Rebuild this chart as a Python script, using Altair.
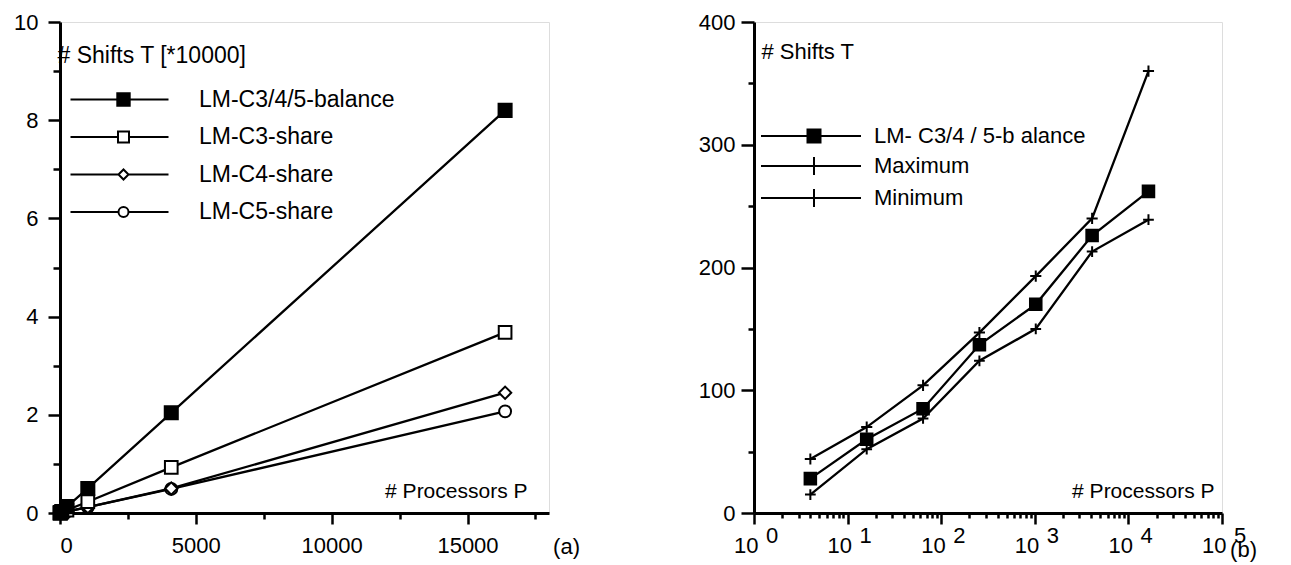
import altair as alt
import pandas as pd

# ---------------- data ----------------
processors = [4, 16, 64, 256, 1024, 4096, 16384]

# panel (a): shifts T in units of 10000
left_series = ["LM-C3/4/5-balance", "LM-C3-share", "LM-C4-share", "LM-C5-share"]
balance_a = [0.002, 0.008, 0.03, 0.13, 0.50, 2.04, 8.20]
c3_share_a = [0.001, 0.004, 0.015, 0.06, 0.23, 0.93, 3.68]
c4_share_a = [0.0005, 0.002, 0.008, 0.03, 0.12, 0.50, 2.45]
c5_share_a = [0.0005, 0.002, 0.008, 0.03, 0.12, 0.49, 2.07]

# panel (b): shifts T
right_series = ["LM- C3/4 / 5-b alance", "Maximum", "Minimum"]
balance_b = [28, 60, 85, 137, 170, 226, 262]
maximum_b = [44, 70, 104, 147, 193, 240, 360]
minimum_b = [15, 52, 77, 124, 150, 213, 239]

exponents = [0, 1, 2, 3, 4, 5]
x_ticks_a = [0, 2500, 5000, 7500, 10000, 12500, 15000, 17500]
y_ticks_a = [0, 1, 2, 3, 4, 5, 6, 7, 8, 9, 10]
y_ticks_b = [0, 50, 100, 150, 200, 250, 300, 350, 400]

FONT = "Liberation Sans"
FS = 22

rows_a = []
# drawn in reverse so that the balance series and the diamonds sit on top
for name, vals in reversed(list(zip(left_series, [balance_a, c3_share_a, c4_share_a, c5_share_a]))):
    for p, v in zip(processors, vals):
        rows_a.append({"series": name, "P": p, "T": v})
df_a = pd.DataFrame(rows_a)

rows_b = []
for name, vals in zip(right_series, [balance_b, maximum_b, minimum_b]):
    for p, v in zip(processors, vals):
        rows_b.append({"series": name, "P": p, "T": v})
df_b = pd.DataFrame(rows_b)

exp_df = pd.DataFrame({"P": [10 ** e for e in exponents],
                       "T": [0] * len(exponents),
                       "exp": [str(e) for e in exponents]})

log_ticks_b = [m * 10 ** k for k in range(5) for m in range(1, 10)] + [10 ** 5]

axis_common = dict(grid=False, domainColor="black", domainWidth=3, tickColor="black",
                   tickWidth=2.5, labelFont=FONT, labelFontSize=FS, labelColor="black",
                   titleFont=FONT, titleColor="black", titleFontWeight="normal")

# ---------------- panel (a) ----------------
W_A, H = 489, 491
x_a = alt.X("P:Q", scale=alt.Scale(domain=[0, 18000], nice=False, zero=False),
            axis=alt.Axis(values=x_ticks_a, format="d",
                          labelExpr="datum.value % 5000 == 0 ? datum.label : ''",
                          tickSize={"condition": {"test": "datum.value % 5000 == 0", "value": 11}, "value": 6},
                          labelPadding=11,
                          title="# Processors P", titleFontSize=21, titleAlign="right", titleAnchor="end",
                          titleX=W_A - 22, titleY=-22, titleBaseline="middle",
                          **axis_common))
y_a = alt.Y("T:Q", scale=alt.Scale(domain=[0, 10], nice=False),
            axis=alt.Axis(values=y_ticks_a,
                          labelExpr="datum.value % 2 == 0 ? datum.label : ''",
                          tickSize={"condition": {"test": "datum.value % 2 == 0", "value": 12}, "value": 7},
                          labelPadding=10,
                          title="# Shifts T [*10000]", titleFontSize=23, titleAngle=0, titleAlign="left",
                          titleAnchor="start", titleX=-3, titleY=33, titleBaseline="middle",
                          **axis_common))

shapes_a = ["square", "square", "diamond", "circle"]
fills_a = ["black", "white", "white", "white"]
strokes_a = ["black"] * 4
sizes_a = [170, 115, 70, 95]
legend_paths_a = [
    "M-5.3,0H4.5M-0.62,-0.62H0.62V0.62H-0.62Z",
    "M-5.3,0H-0.55M0.55,0H4.5M-0.55,-0.55H0.55V0.55H-0.55Z",
    "M-5.3,0H-0.5M0.5,0H4.5M-0.5,0L0,-0.5L0.5,0L0,0.5Z",
    "M-5.3,0H-0.5M0.5,0H4.5M-0.5,0A0.5,0.5,0,1,1,0.5,0A0.5,0.5,0,1,1,-0.5,0Z",
]

lines_a = alt.Chart(df_a).mark_line(color="black", strokeWidth=2.3).encode(
    x=x_a, y=y_a, detail="series:N")
points_a = alt.Chart(df_a).mark_point(filled=True, stroke="black", strokeWidth=2, opacity=1).encode(
    x=x_a, y=y_a,
    shape=alt.Shape("series:N", scale=alt.Scale(domain=left_series, range=shapes_a), legend=None),
    fill=alt.Fill("series:N", scale=alt.Scale(domain=left_series, range=fills_a), legend=None),
    size=alt.Size("series:N", scale=alt.Scale(domain=left_series, range=sizes_a), legend=None))

leg_a = alt.Legend(title=None, orient="none", legendX=52, legendY=66, symbolSize=400,
                   symbolStrokeWidth=2, symbolOpacity=1, labelLimit=500,
                   labelFont=FONT, labelFontSize=23, labelColor="black", labelOffset=64,
                   rowPadding=13.5, padding=0)
legend_layer_a = alt.Chart(df_a).transform_filter("false").mark_point(
    filled=True, strokeWidth=2, opacity=1).encode(
    x=x_a, y=y_a,
    shape=alt.Shape("series:N", scale=alt.Scale(domain=left_series, range=legend_paths_a), legend=leg_a),
    fill=alt.Fill("series:N", scale=alt.Scale(domain=left_series, range=fills_a), legend=leg_a),
    stroke=alt.Stroke("series:N", scale=alt.Scale(domain=left_series, range=strokes_a), legend=leg_a))

panel_a = alt.layer(lines_a, points_a, legend_layer_a).resolve_scale(
    shape="independent", fill="independent", stroke="independent").properties(
    width=W_A, height=H,
    title=alt.TitleParams("(a)", orient="bottom", anchor="end", frame="group", dx=31, offset=-19,
                          font=FONT, fontSize=FS, fontWeight="normal", color="black"))

# ---------------- panel (b) ----------------
W_B = 468
is_pow = "abs(log(datum.value)/LN10 - round(log(datum.value)/LN10)) < 0.001"
x_b = alt.X("P:Q", scale=alt.Scale(type="log", domain=[1, 100000], nice=False),
            axis=alt.Axis(values=log_ticks_b,
                          labelExpr=f"{is_pow} ? '10' : ''",
                          tickSize={"condition": {"test": is_pow, "value": 11}, "value": 5},
                          labelAlign="right", labelOffset=4, labelPadding=11,
                          title="# Processors P", titleFontSize=21, titleAlign="right", titleAnchor="end",
                          titleX=W_B - 8, titleY=-22, titleBaseline="middle",
                          **axis_common))
y_b = alt.Y("T:Q", scale=alt.Scale(domain=[0, 400], nice=False),
            axis=alt.Axis(values=y_ticks_b,
                          labelExpr="datum.value % 100 == 0 ? datum.label : ''",
                          tickSize={"condition": {"test": "datum.value % 100 == 0", "value": 13}, "value": 6},
                          labelPadding=6,
                          title="# Shifts T", titleFontSize=22, titleAngle=0, titleAlign="left",
                          titleAnchor="start", titleX=7, titleY=29, titleBaseline="middle",
                          **axis_common))

plus = "M-1,0H1M0,-1V1"
shapes_b = ["square", plus, plus]
fills_b = ["black", "white", "white"]
strokes_b = ["black"] * 3
sizes_b = [180, 324, 324]
legend_paths_b = [
    "M-5.3,0H4.7M-0.65,-0.65H0.65V0.65H-0.65Z",
    "M-5.3,0H4.7M0,-0.9V0.9",
    "M-5.3,0H4.7M0,-0.9V0.9",
]

lines_b = alt.Chart(df_b).mark_line(color="black", strokeWidth=2.3).encode(
    x=x_b, y=y_b, detail="series:N")
points_b = alt.Chart(df_b).mark_point(filled=True, stroke="black", strokeWidth=2, opacity=1).encode(
    x=x_b, y=y_b,
    shape=alt.Shape("series:N", scale=alt.Scale(domain=right_series, range=shapes_b), legend=None),
    fill=alt.Fill("series:N", scale=alt.Scale(domain=right_series, range=fills_b), legend=None),
    size=alt.Size("series:N", scale=alt.Scale(domain=right_series, range=sizes_b), legend=None))

leg_b = alt.Legend(title=None, orient="none", legendX=49, legendY=103, symbolSize=400,
                   symbolStrokeWidth=2, symbolOpacity=1, labelLimit=500,
                   labelFont=FONT, labelFontSize=FS, labelColor="black", labelOffset=49,
                   rowPadding=6, padding=0)
legend_layer_b = alt.Chart(df_b).transform_filter("false").mark_point(
    filled=True, strokeWidth=2, opacity=1).encode(
    x=x_b, y=y_b,
    shape=alt.Shape("series:N", scale=alt.Scale(domain=right_series, range=legend_paths_b), legend=leg_b),
    fill=alt.Fill("series:N", scale=alt.Scale(domain=right_series, range=fills_b), legend=leg_b),
    stroke=alt.Stroke("series:N", scale=alt.Scale(domain=right_series, range=strokes_b), legend=leg_b))

exp_layer = alt.Chart(exp_df).mark_text(align="left", baseline="middle", dx=12, dy=23,
                                        font=FONT, fontSize=FS, color="black").encode(
    x=x_b, y=y_b, text="exp:N")

panel_b = alt.layer(lines_b, points_b, legend_layer_b, exp_layer).resolve_scale(
    shape="independent", fill="independent", stroke="independent").properties(
    width=W_B, height=H,
    title=alt.TitleParams("(b)", orient="bottom", anchor="end", frame="group", dx=35, offset=-16,
                          font=FONT, fontSize=FS, fontWeight="normal", color="black"))

chart = alt.hconcat(panel_a, panel_b, spacing=116).properties(
    padding={"left": 5, "top": 2, "right": 0, "bottom": 0}
).configure_view(stroke="black", strokeWidth=2.5).configure(background="white")

chart.save("out.html", embed_options={"renderer": "svg", "actions": False})
